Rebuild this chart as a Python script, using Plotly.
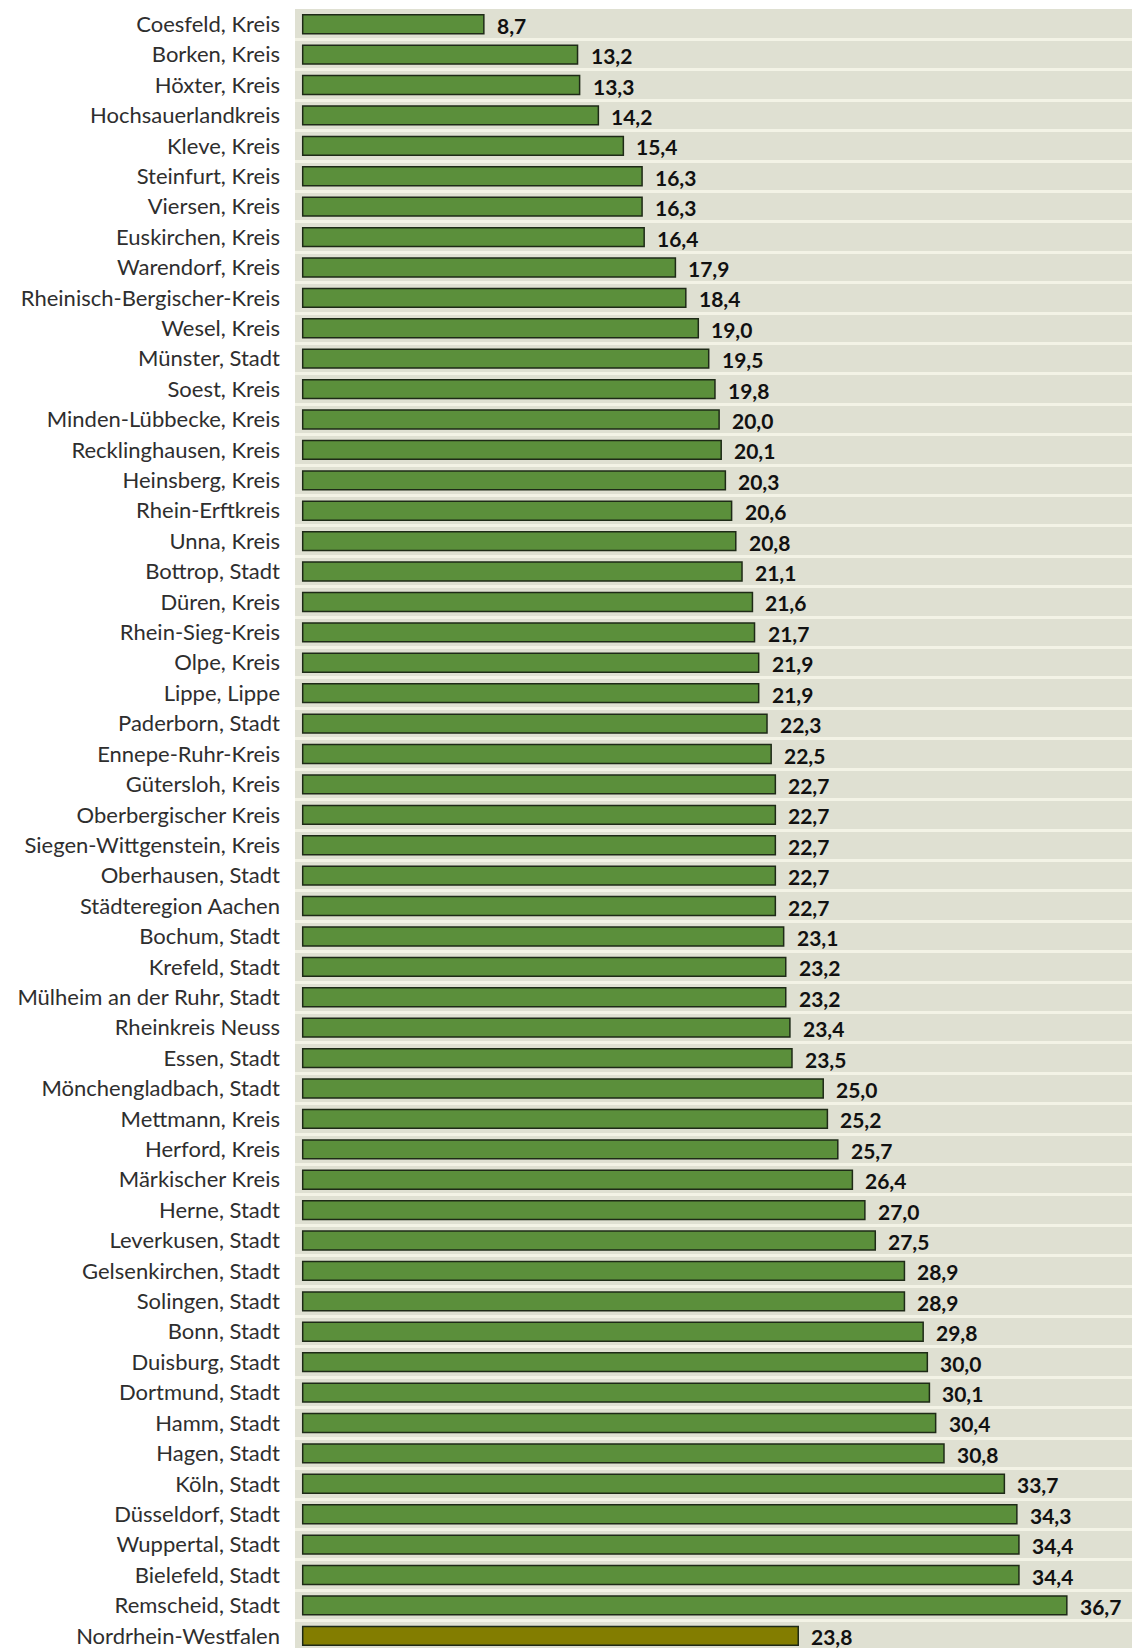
import plotly.graph_objects as go

regions = [
    "Coesfeld, Kreis", "Borken, Kreis", "Höxter, Kreis", "Hochsauerlandkreis",
    "Kleve, Kreis", "Steinfurt, Kreis", "Viersen, Kreis", "Euskirchen, Kreis",
    "Warendorf, Kreis", "Rheinisch-Bergischer-Kreis", "Wesel, Kreis",
    "Münster, Stadt", "Soest, Kreis", "Minden-Lübbecke, Kreis",
    "Recklinghausen, Kreis", "Heinsberg, Kreis", "Rhein-Erftkreis",
    "Unna, Kreis", "Bottrop, Stadt", "Düren, Kreis", "Rhein-Sieg-Kreis",
    "Olpe, Kreis", "Lippe, Lippe", "Paderborn, Stadt", "Ennepe-Ruhr-Kreis",
    "Gütersloh, Kreis", "Oberbergischer Kreis", "Siegen-Wittgenstein, Kreis",
    "Oberhausen, Stadt", "Städteregion Aachen", "Bochum, Stadt",
    "Krefeld, Stadt", "Mülheim an der Ruhr, Stadt", "Rheinkreis Neuss",
    "Essen, Stadt", "Mönchengladbach, Stadt", "Mettmann, Kreis",
    "Herford, Kreis", "Märkischer Kreis", "Herne, Stadt", "Leverkusen, Stadt",
    "Gelsenkirchen, Stadt", "Solingen, Stadt", "Bonn, Stadt",
    "Duisburg, Stadt", "Dortmund, Stadt", "Hamm, Stadt", "Hagen, Stadt",
    "Köln, Stadt", "Düsseldorf, Stadt", "Wuppertal, Stadt",
    "Bielefeld, Stadt", "Remscheid, Stadt", "Nordrhein-Westfalen",
]
values = [
    8.7, 13.2, 13.3, 14.2, 15.4, 16.3, 16.3, 16.4, 17.9, 18.4, 19.0, 19.5,
    19.8, 20.0, 20.1, 20.3, 20.6, 20.8, 21.1, 21.6, 21.7, 21.9, 21.9, 22.3,
    22.5, 22.7, 22.7, 22.7, 22.7, 22.7, 23.1, 23.2, 23.2, 23.4, 23.5, 25.0,
    25.2, 25.7, 26.4, 27.0, 27.5, 28.9, 28.9, 29.8, 30.0, 30.1, 30.4, 30.8,
    33.7, 34.3, 34.4, 34.4, 36.7, 23.8,
]
total_label = "Nordrhein-Westfalen"

GREEN = "#5b8f3b"
OLIVE = "#837d00"
colors = [OLIVE if r == total_label else GREEN for r in regions]
value_text = [f"{v:.1f}".replace(".", ",") for v in values]

fig = go.Figure()
fig.add_trace(go.Bar(
    x=values, y=regions, orientation="h",
    marker=dict(color=colors, line=dict(color="#1e2a17", width=1.5)),
    width=0.62, hoverinfo="x+y",
))

for r, v, t in zip(regions, values, value_text):
    fig.add_annotation(
        x=v, y=r, text=t, showarrow=False, xanchor="left", yanchor="middle",
        xshift=11, yshift=-1,
        font=dict(family="Lato", size=21, color="#111111", weight="bold"),
    )

fig.update_layout(
    width=1132, height=1648,
    margin=dict(l=295, r=0, t=9, b=0),
    paper_bgcolor="white",
    plot_bgcolor="#dfe0d2",
    showlegend=False,
    font=dict(family="Lato", size=22, color="#2e2e2e"),
    xaxis=dict(range=[-0.37, 39.83], showgrid=False, zeroline=False,
               showticklabels=False, showline=False, fixedrange=True),
    yaxis=dict(type="category", range=[53.4, -0.5], tickson="boundaries",
               showgrid=True, gridcolor="#f3f3e6", gridwidth=2.5,
               ticks="", ticklabelstandoff=14, showline=False,
               tickfont=dict(family="Lato", size=22, color="#2e2e2e")),
)

fig.write_html(
    "out.html",
    config={"displayModeBar": False},
    post_script="document.body.style.margin='0';document.body.style.overflow='hidden';",
)
